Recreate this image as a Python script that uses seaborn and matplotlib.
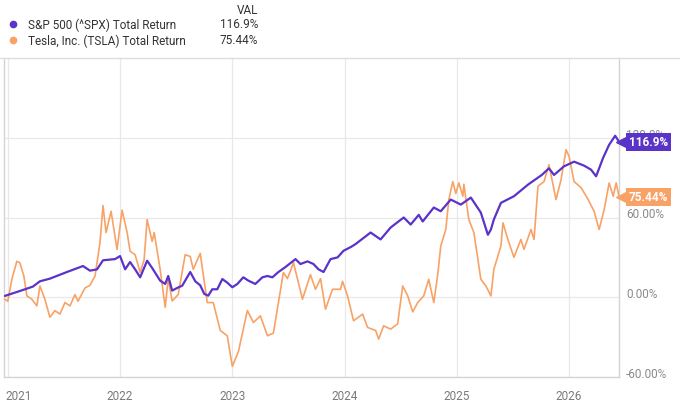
import numpy as np
import pandas as pd
import matplotlib
matplotlib.use("Agg")
import matplotlib.pyplot as plt
import matplotlib.transforms as mtrans
import seaborn as sns

# --- data (decimal year, total return %) ---
spx_t = [2020.973, 2021.107, 2021.223, 2021.286, 2021.375, 2021.527, 2021.670, 2021.732,
         2021.795, 2021.848,
         2021.955, 2022.000, 2022.045, 2022.089, 2022.134, 2022.179, 2022.241, 2022.286,
         2022.357, 2022.402, 2022.429, 2022.464, 2022.509, 2022.554, 2022.625, 2022.670,
         2022.714, 2022.750, 2022.786, 2022.821, 2022.866,
         2022.911, 2022.955, 2023.000, 2023.045, 2023.098, 2023.143, 2023.205, 2023.268,
         2023.313, 2023.357, 2023.411, 2023.473, 2023.563, 2023.607, 2023.670, 2023.723,
         2023.768, 2023.813, 2023.875, 2023.938, 2023.991, 2024.054, 2024.098,
         2024.232, 2024.321, 2024.411, 2024.527, 2024.589, 2024.661, 2024.696, 2024.795,
         2024.857, 2024.946, 2025.036, 2025.125, 2025.214, 2025.277, 2025.304, 2025.330,
         2025.393, 2025.509, 2025.634, 2025.757, 2025.821, 2025.866, 2025.955, 2026.045,
         2026.134, 2026.196, 2026.241, 2026.304, 2026.357, 2026.411, 2026.446]
spx_v = [1.0, 4.7, 8.0, 12.0, 14.0, 19.0, 23.5, 20.0,
         21.0, 27.8,
         28.7, 31.0, 21.0, 26.5, 21.0, 15.0, 27.5, 22.0,
         12.5, 10.0, 16.0, 5.0, 7.0, 8.7, 19.0, 12.0,
         9.0, 2.5, 1.2, 6.0, 6.0,
         13.7, 11.0, 7.5, 10.0, 15.0, 12.5, 10.0, 15.0,
         16.0, 15.0, 19.0, 22.7, 28.7, 25.0, 27.0, 25.0,
         21.0, 19.0, 28.7, 30.0, 35.0, 37.7, 40.0,
         48.7, 43.5, 52.5, 60.0, 54.7, 62.0, 57.0, 67.5,
         64.7, 73.5, 69.7, 75.0, 63.7, 47.0, 51.0, 58.5,
         71.0, 76.0, 84.7, 92.0, 97.0, 92.0, 98.5, 102.0,
         99.0, 96.0, 91.0, 105.0, 114.7, 121.5, 116.9]

tsla_t = [2020.973, 2021.000, 2021.036, 2021.080, 2021.107, 2021.143, 2021.170, 2021.214,
          2021.259, 2021.286, 2021.330, 2021.375, 2021.420, 2021.464, 2021.509, 2021.554,
          2021.598, 2021.625, 2021.688, 2021.732, 2021.777, 2021.821, 2021.848, 2021.875,
          2021.920, 2021.973, 2022.018, 2022.063, 2022.089, 2022.134, 2022.179, 2022.214,
          2022.241, 2022.286, 2022.304, 2022.357, 2022.402, 2022.429, 2022.464, 2022.518,
          2022.580, 2022.625, 2022.652, 2022.714, 2022.777, 2022.830, 2022.893, 2022.955,
          2023.000, 2023.054, 2023.134, 2023.188, 2023.250, 2023.313, 2023.366, 2023.455,
          2023.491, 2023.545, 2023.625, 2023.696, 2023.741, 2023.786, 2023.830, 2023.893,
          2023.964, 2023.982, 2024.027, 2024.080, 2024.161, 2024.205, 2024.277, 2024.304,
          2024.348, 2024.411, 2024.473, 2024.518, 2024.563, 2024.607, 2024.652, 2024.705,
          2024.750, 2024.795, 2024.830, 2024.857, 2024.902, 2024.929, 2024.964, 2024.991,
          2025.018, 2025.054, 2025.063, 2025.107, 2025.152, 2025.188, 2025.214, 2025.259,
          2025.304, 2025.330, 2025.393, 2025.411, 2025.455, 2025.509, 2025.571, 2025.598,
          2025.661, 2025.688, 2025.723, 2025.777, 2025.821, 2025.884, 2025.929, 2025.973,
          2026.000, 2026.045, 2026.107, 2026.170, 2026.223, 2026.268, 2026.313, 2026.357,
          2026.393, 2026.420, 2026.446]
tsla_v = [-1.5, -3.0, 13.5, 27.0, 26.0, 16.0, 1.0, -1.5,
          -6.5, 8.5, -1.5, -15.0, -10.0, -12.7, -4.0, -6.5,
          2.0, -3.0, 7.0, 9.0, 16.0, 41.0, 69.0, 48.7,
          64.7, 36.0, 65.5, 48.7, 34.7, 32.0, 18.7, 28.0,
          58.5, 42.0, 48.7, 21.0, -7.5, 14.0, -2.8, 2.0,
          32.0, 30.7, 21.0, 33.0, -4.0, -4.0, -25.0, -29.0,
          -52.0, -41.0, -10.0, -19.0, -14.0, -29.0, -27.0, 18.7,
          14.0, 26.0, -1.5, 17.0, 6.0, 14.0, -9.0, 6.0,
          6.0, 12.0, 1.0, -17.7, -12.7, -22.7, -25.0, -31.5,
          -21.5, -24.0, -20.0, 8.5, 1.0, -11.0, -4.0, 1.0,
          13.5, -4.0, 17.0, 38.5, 51.0, 73.5, 87.0, 78.0,
          86.0, 76.0, 85.0, 58.5, 48.7, 28.5, 13.5, 8.5,
          1.0, 21.0, 38.5, 56.0, 43.5, 30.0, 43.5, 36.0,
          51.0, 43.5, 83.5, 87.0, 99.7, 73.5, 88.5, 111.0,
          106.0, 87.0, 82.5, 73.5, 64.7, 51.0, 66.0, 86.0,
          76.0, 86.0, 75.44]

series_names = ["S&P 500 (^SPX) Total Return", "Tesla, Inc. (TSLA) Total Return"]
last_values = ["116.9%", "75.44%"]
y_ticks = [-60, 0, 60, 120]
y_tick_labels = ["-60.00%", "0.00%", "60.00%", "120.0%"]
x_years = [2021, 2022, 2023, 2024, 2025, 2026]

PURPLE = "#5a33c9"
ORANGE = "#f8a266"


def to_dates(t):
    t = np.asarray(t)
    base = pd.Timestamp("2021-01-01")
    return base + pd.to_timedelta((t - 2021) * 365.25, unit="D")


spx = pd.DataFrame({"date": to_dates(spx_t), "ret": spx_v})
tsla = pd.DataFrame({"date": to_dates(tsla_t), "ret": tsla_v})

sns.set_theme(style="white")
plt.rcParams["font.family"] = ["Roboto", "DejaVu Sans"]

fig = plt.figure(figsize=(6.8, 4.02), dpi=100)
ax = fig.add_axes([4 / 680, 1 - 378 / 402, 615 / 680, 319 / 402])

sns.lineplot(data=tsla, x="date", y="ret", color=ORANGE, linewidth=1.2, ax=ax, zorder=3)
sns.lineplot(data=spx, x="date", y="ret", color=PURPLE, linewidth=1.6, ax=ax, zorder=4)

ax.set_xlim(to_dates([2020.966])[0], to_dates([2026.445])[0])
ax.set_ylim(-60, 180)
ax.set_xlabel("")
ax.set_ylabel("")

# grid
ax.set_yticks(y_ticks)
ax.set_yticklabels(y_tick_labels)
ax.set_xticks(to_dates(x_years))
ax.set_xticklabels([str(y) for y in x_years])
ax.grid(True, color="#e8e8e8", linewidth=0.9)
ax.set_axisbelow(True)

ax.yaxis.tick_right()
ax.tick_params(axis="y", length=0, pad=5, labelsize=8.5, labelcolor="#8a8a8a")
ax.tick_params(axis="x", length=0, pad=9, labelsize=8.5, labelcolor="#7a7a7a")
shift_up = mtrans.ScaledTranslation(0, 0.05, fig.dpi_scale_trans)
for lab in ax.get_yticklabels():
    lab.set_transform(lab.get_transform() + shift_up)
first = ax.get_xticklabels()[0]
first.set_horizontalalignment("left")
first.set_transform(first.get_transform() + mtrans.ScaledTranslation(-0.02, 0, fig.dpi_scale_trans))

for side in ["left", "bottom", "right"]:
    ax.spines[side].set_color("#d4d4d4")
    ax.spines[side].set_linewidth(1.0)
ax.spines["top"].set_visible(False)

# separator line under the legend
fig.add_artist(plt.Line2D([0, 1], [1 - 59 / 402] * 2, color="#dddddd", linewidth=1.0,
                          transform=fig.transFigure))

# end-value badges (they sit over the right-hand tick labels, as in the source chart)
badge_tr = mtrans.blended_transform_factory(ax.transAxes, ax.transData)
for val, txt, col in [(spx_v[-1], last_values[0], PURPLE), (tsla_v[-1], last_values[1], ORANGE)]:
    ax.plot([1.004], [val], marker="<", markersize=7, color=col, transform=badge_tr,
            clip_on=False, zorder=6)
    ax.text(1.016, val, txt, transform=badge_tr, ha="left", va="center", color="white",
            fontsize=8.5, fontweight="bold", clip_on=False, zorder=7,
            bbox=dict(boxstyle="square,pad=0.22", facecolor=col, edgecolor="none"))

# legend block
fig.text(258 / 680, 1 - 11 / 402, "VAL", ha="right", va="center", fontsize=8.5, color="#333333")
for i, (name, val, col) in enumerate(zip(series_names, last_values, [PURPLE, ORANGE])):
    yy = 1 - (25 + 16 * i) / 402
    fig.add_artist(plt.Line2D([13 / 680], [yy], marker="o", markersize=4.5, color=col,
                              linestyle="none", transform=fig.transFigure))
    fig.text(28 / 680, yy, name, ha="left", va="center", fontsize=8.5, color="#333333")
    fig.text(258 / 680, yy, val, ha="right", va="center", fontsize=8.5, color="#333333")

fig.savefig("out.png", dpi=100)
